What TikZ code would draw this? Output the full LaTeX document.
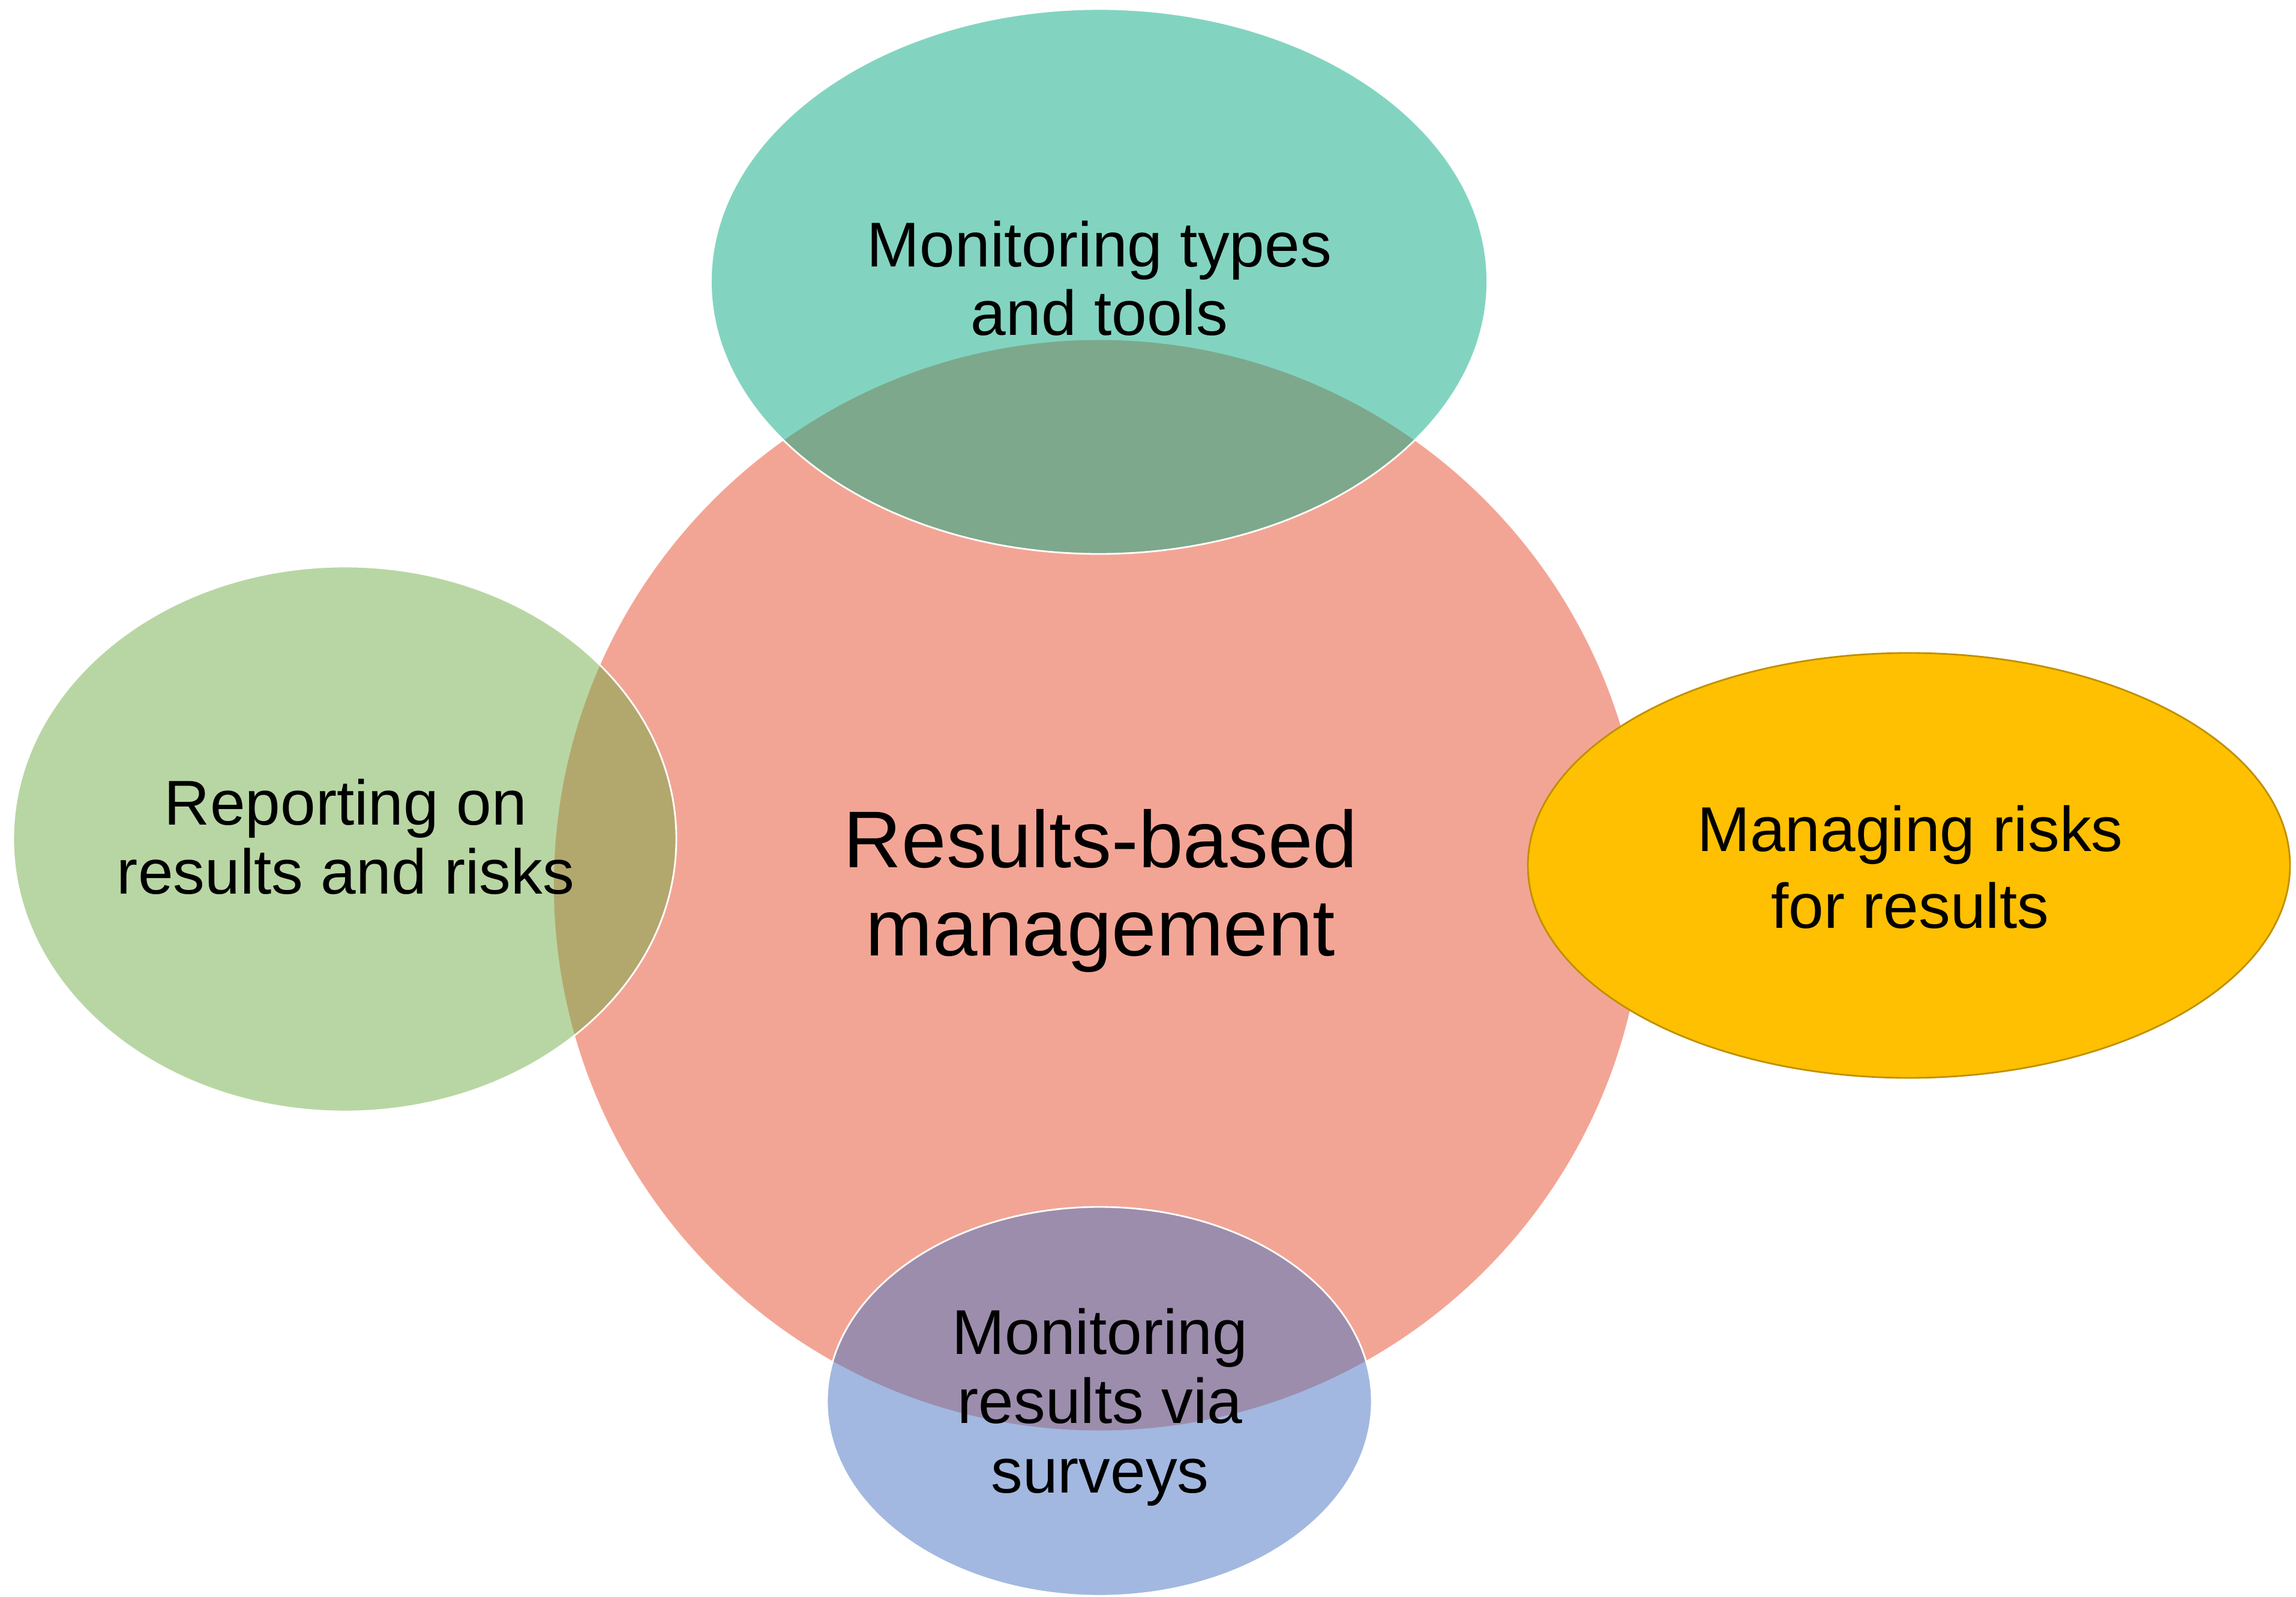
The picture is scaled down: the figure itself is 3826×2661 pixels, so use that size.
\documentclass[tikz,border=0pt]{standalone}
\usepackage{fontspec}
\setmainfont{Liberation Sans}
\definecolor{rbmSalmon}{HTML}{F3A595}
\definecolor{rbmTeal}{HTML}{82D4C0}
\definecolor{rbmTealOv}{HTML}{7DA88C}
\definecolor{rbmGreen}{HTML}{B8D6A3}
\definecolor{rbmGreenOv}{HTML}{B2A86E}
\definecolor{rbmBlue}{HTML}{A2B8E0}
\definecolor{rbmBlueOv}{HTML}{9C8DAD}
\definecolor{rbmOrange}{HTML}{FEC000}
\definecolor{rbmOrangeLine}{HTML}{BF9000}
\tikzset{
  lbl/.style={font=\fontsize{30}{32}\selectfont, anchor=base, inner sep=0pt, text=black},
  biglbl/.style={font=\fontsize{38.1}{41}\selectfont, anchor=base, inner sep=0pt, text=black},
  rim/.style={draw=white, line width=0.8pt},
}
\begin{document}
\begin{tikzpicture}[x=0.01cm,y=-0.01cm]
\useasboundingbox (0,0) rectangle (3826,2661);
% central circle
\fill[rbmSalmon] (1831.5,1475) circle[radius=908.5];
% top ellipse
\fill[rbmTeal] (1831.5,469) ellipse[x radius=647, y radius=454];
\begin{scope}
  \clip (1831.5,1475) circle[radius=908.5];
  \fill[rbmTealOv] (1831.5,469) ellipse[x radius=647, y radius=454];
\end{scope}
\draw[rim] (1831.5,469) ellipse[x radius=647, y radius=454];
% left ellipse
\fill[rbmGreen] (574.5,1398) ellipse[x radius=552.5, y radius=454];
\begin{scope}
  \clip (1831.5,1475) circle[radius=908.5];
  \fill[rbmGreenOv] (574.5,1398) ellipse[x radius=552.5, y radius=454];
\end{scope}
\draw[rim] (574.5,1398) ellipse[x radius=552.5, y radius=454];
% bottom ellipse
\fill[rbmBlue] (1832,2335) ellipse[x radius=454, y radius=324];
\begin{scope}
  \clip (1831.5,1475) circle[radius=908.5];
  \fill[rbmBlueOv] (1832,2335) ellipse[x radius=454, y radius=324];
\end{scope}
\draw[rim] (1832,2335) ellipse[x radius=454, y radius=324];
% right ellipse
\draw[fill=rbmOrange, draw=rbmOrangeLine, line width=0.8pt] (3181,1442) ellipse[x radius=635, y radius=354];
% texts
\node[biglbl] (c1) at (1834,1445) {Results-based};
\node[biglbl] (c2) at (1834,1592) {management};
\node[lbl] (t1) at (1832,445) {Monitoring types};
\node[lbl] (t2) at (1832,559) {and tools};
\node[lbl] (l1) at (576,1374) {Reporting on};
\node[lbl] (l2) at (576,1489) {results and risks};
\node[lbl] (r1) at (3183,1418) {Managing risks};
\node[lbl] (r2) at (3183,1546) {for results};
\node[lbl] (b1) at (1833,2256) {Monitoring};
\node[lbl] (b2) at (1833,2371) {results via};
\node[lbl] (b3) at (1833,2487) {surveys};
\end{tikzpicture}
\end{document}
